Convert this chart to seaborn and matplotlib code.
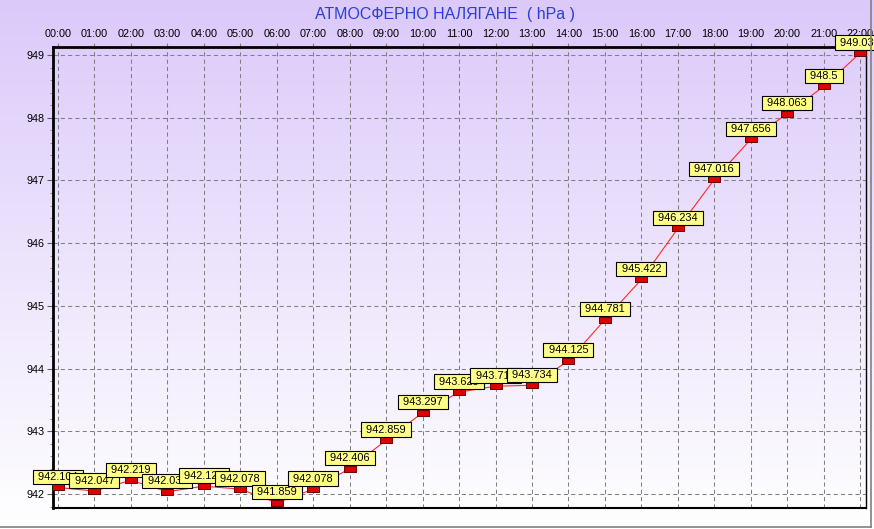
import numpy as np
import pandas as pd
import matplotlib
matplotlib.use("Agg")
import matplotlib.pyplot as plt
import seaborn as sns
from matplotlib.lines import Line2D
from matplotlib.ticker import MultipleLocator

plt.rcParams['font.family'] = ['Liberation Sans', 'DejaVu Sans']

title = "АТМОСФЕРНО НАЛЯГАНЕ  ( hPa )"
hours = ["00:00", "01:00", "02:00", "03:00", "04:00", "05:00", "06:00", "07:00",
         "08:00", "09:00", "10:00", "11:00", "12:00", "13:00", "14:00", "15:00",
         "16:00", "17:00", "18:00", "19:00", "20:00", "21:00", "22:00"]
pressure = [942.104, 942.047, 942.219, 942.037, 942.125, 942.078, 941.859, 942.078,
            942.406, 942.859, 943.297, 943.625, 943.719, 943.734, 944.125, 944.781,
            945.422, 946.234, 947.016, 947.656, 948.063, 948.5, 949.031]
y_ticks = [942, 943, 944, 945, 946, 947, 948, 949]

df = pd.DataFrame({"idx": np.arange(len(hours)), "hour": hours, "p": pressure})

W, H = 874, 529
fig = plt.figure(figsize=(W / 100, H / 100), dpi=100)

# gradient background
bg = fig.add_axes([0, 0, 1, 1], zorder=-10)
top = np.array([0.86, 0.79, 0.98])
bot = np.array([1.0, 1.0, 1.0])
t = np.linspace(0, 1, 256)[:, None]
grad = (top[None, :] * (1 - t) + bot[None, :] * t)[:, None, :]
bg.imshow(grad, aspect='auto', extent=[0, 1, 0, 1], origin='upper')
bg.set_xlim(0, 1); bg.set_ylim(0, 1)
bg.axis('off')

ax = fig.add_axes([53 / W, 1 - 508 / H, (866 - 53) / W, (508 - 47) / H])
ax.set_facecolor('none')

rect = [(-1, -0.55), (1, -0.55), (1, 0.55), (-1, 0.55), (-1, -0.55)]
sns.lineplot(data=df, x="idx", y="p", ax=ax, color='#ff2a2a', linewidth=0.8,
             marker=rect, markersize=9, markerfacecolor='#dd0000',
             markeredgecolor='#700000', markeredgewidth=0.7, zorder=3)

ax.set_xlim(-0.137, 22.16)
ax.set_ylim(941.777, 949.128)

ax.xaxis.tick_top()
ax.set_xticks(df["idx"])
ax.set_xticklabels(hours, fontsize=7.8)
ax.set_yticks(y_ticks)
ax.set_yticklabels([str(v) for v in y_ticks], fontsize=7.8)
ax.yaxis.set_minor_locator(MultipleLocator(0.2))
ax.tick_params(axis='x', which='major', length=3, color='#808080', pad=3)
ax.tick_params(axis='y', which='major', length=4, color='#606060', pad=2)
ax.tick_params(axis='y', which='minor', length=2, color='#808080')
ax.set_xlabel(""); ax.set_ylabel("")

ax.grid(True, which='major', color='#808080', linestyle=(0, (4, 3)), linewidth=0.75)
ax.set_axisbelow(True)

for side, lw in [('left', 2.0), ('top', 2.0), ('bottom', 1.5), ('right', 1.0)]:
    ax.spines[side].set_linewidth(lw)
    ax.spines[side].set_color('black')

for i, v in enumerate(pressure):
    ax.annotate(" " + format(v, 'g') + " ", (i, v), xytext=(0, 4.0), textcoords='offset points',
                ha='center', va='bottom', fontsize=7.9, color='black', zorder=5 + i,
                annotation_clip=False,
                bbox=dict(boxstyle='square,pad=0.2', facecolor='#ffff88',
                          edgecolor='black', linewidth=0.8))

fig.text(445 / W, 1 - 15 / H, title, ha='center', va='center', fontsize=11.5,
         color='#2a3fd6')

# outer frame lines
fig.add_artist(Line2D([871 / W, 871 / W], [1 - 527 / H, 1], color='#808080', linewidth=1.2))
fig.add_artist(Line2D([0, 871 / W], [1 - 527 / H, 1 - 527 / H], color='#808080', linewidth=1.2))

fig.savefig("out.png", dpi=100)
